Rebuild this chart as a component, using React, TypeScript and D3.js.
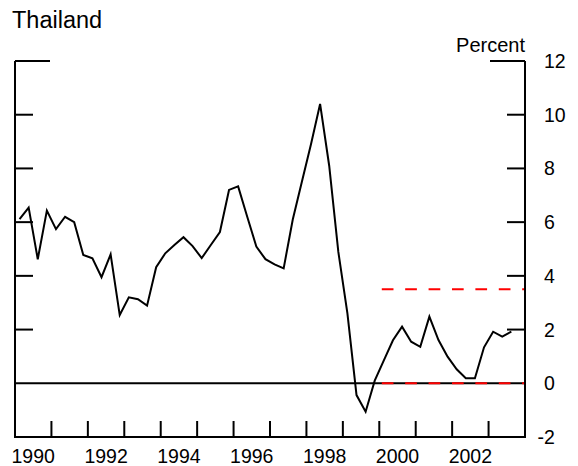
import React from "react";
import * as d3 from "d3";

// Quarterly values, 1990Q1 .. 2003Q3 (percent)
const startYear = 1990;
const values: number[] = [
  6.11, 6.54, 4.62, 6.43,
  5.74, 6.2, 6.0, 4.78,
  4.65, 3.95, 4.8, 2.54,
  3.2, 3.13, 2.89, 4.32,
  4.84, 5.15, 5.44, 5.11,
  4.66, 5.15, 5.63, 7.2,
  7.33, 6.2, 5.09, 4.62,
  4.43, 4.28, 6.1, 7.5,
  8.9, 10.4, 8.1, 4.9,
  2.6, -0.44, -1.06, 0.1,
  0.85, 1.6, 2.11, 1.55,
  1.36, 2.48, 1.61, 0.99,
  0.52, 0.19, 0.19, 1.34,
  1.92, 1.74, 1.92,
];
const yTicks: number[] = [12, 10, 8, 6, 4, 2, 0, -2];
const xLabels: number[] = [1990, 1992, 1994, 1996, 1998, 2000, 2002];
const yearTicks: number[] = [1991, 1992, 1993, 1994, 1995, 1996, 1997, 1998, 1999, 2000, 2001, 2002, 2003];
const bandLevels: number[] = [3.5, 0];
const bandStart = 2000;

const title = "Thailand";
const unitLabel = "Percent";

export default function App() {
  const left = 15;
  const right = 525;
  const top = 61;
  const bottom = 437;
  const x = d3.scaleLinear().domain([1990, 2004]).range([left, right]);
  const y = d3.scaleLinear().domain([-2, 12]).range([bottom, top]);
  const pts: [number, number][] = values.map((v, i) => [startYear + (i + 0.5) / 4, v]);
  const line = d3
    .line<[number, number]>()
    .x((d) => x(d[0]))
    .y((d) => y(d[1]));
  const font = "'Liberation Sans', Arial, Helvetica, sans-serif";
  const fs = 19.5;
  return (
    <svg
      width={578}
      height={466}
      style={{ position: "absolute", left: 0, top: 0, background: "#fff" }}
      fontFamily={font}
    >
      <rect x={0} y={0} width={578} height={466} fill="#fff" />
      <text x={12} y={28} fontSize={23.5}>{title}</text>
      <text x={right} y={52} fontSize={20}>
        <tspan textAnchor="end">{unitLabel}</tspan>
      </text>

      {/* zero line */}
      <line x1={left} x2={right} y1={y(0)} y2={y(0)} stroke="#000" strokeWidth={2} />

      {/* red dashed band lines */}
      {bandLevels.map((b) => (
        <line
          key={b}
          x1={x(bandStart) + 2.5}
          x2={right}
          y1={y(b)}
          y2={y(b)}
          stroke="#ff0000"
          strokeWidth={2}
          strokeDasharray="11.7 11.7"
        />
      ))}

      {/* data line */}
      <path d={line(pts) || ""} fill="none" stroke="#000" strokeWidth={2} strokeLinejoin="miter" />

      {/* axes */}
      <line x1={left} x2={left} y1={top} y2={bottom} stroke="#000" strokeWidth={2} />
      <line x1={right} x2={right} y1={top} y2={bottom + 1} stroke="#000" strokeWidth={2} />
      <line x1={left - 1} x2={right + 1} y1={bottom} y2={bottom} stroke="#000" strokeWidth={2} />

      {yTicks.map((t) => {
        const len = t === 12 ? 35 : 18;
        const yy = y(t);
        return (
          <g key={t}>
            {t !== -2 && t !== 0 && (
              <>
                <line x1={left} x2={left + len} y1={yy} y2={yy} stroke="#000" strokeWidth={2} />
                <line x1={right - len} x2={right} y1={yy} y2={yy} stroke="#000" strokeWidth={2} />
              </>
            )}
            <text
              x={t < 0 ? 544 - 0.333 * fs : 544}
              y={yy}
              dy="0.36em"
              fontSize={fs}
            >
              {String(t)}
            </text>
          </g>
        );
      })}

      {yearTicks.map((yr) => (
        <line key={yr} x1={x(yr)} x2={x(yr)} y1={bottom} y2={bottom - 16} stroke="#000" strokeWidth={2} />
      ))}
      {xLabels.map((yr) => (
        <text key={yr} x={x(yr + 0.5)} y={463} fontSize={fs} textAnchor="middle">
          {String(yr)}
        </text>
      ))}
    </svg>
  );
}
